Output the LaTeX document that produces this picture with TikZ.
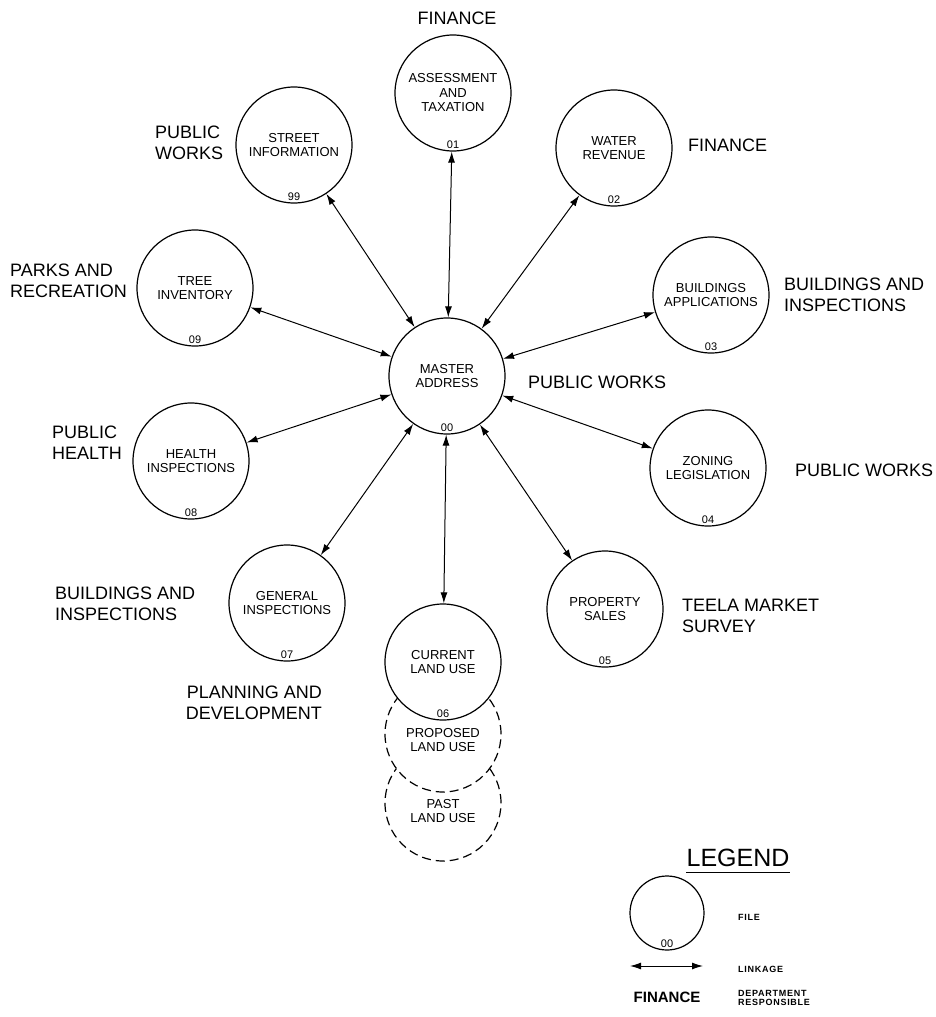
\documentclass[tikz,border=0pt]{standalone}
\usepackage{fontspec}
\setmainfont{Liberation Sans}
\newfontfamily\keyfont{Liberation Sans}[LetterSpace=8]
\usetikzlibrary{arrows.meta}

\begin{document}
\begin{tikzpicture}
[x=1pt,y=-1pt,
  fileDecorate/.style={shape=circle,minimum size=116pt,inner sep=0pt,draw,line width=1.2pt,fill=white,align=center,font=\fontsize{13}{14.5}\selectfont},
  plannedDecorate/.style={fileDecorate,dash pattern=on 9pt off 5pt},
  insideDecorate/.style={align=center,inner sep=0pt,font=\fontsize{13}{14.5}\selectfont},
  numDecorate/.style={font=\fontsize{11}{11}\selectfont,inner sep=3pt},
  lineDecorate/.style={{Latex[length=11pt,width=7pt]}-{Latex[length=11pt,width=7pt]},line width=1pt},
  deptDecorate/.style={align=left,font=\fontsize{18}{21}\selectfont,inner sep=0pt}]
\useasboundingbox (0,0) rectangle (936,1017);

%% land use history, stacked under the current file
\node (past) at (443,803) [plannedDecorate,label={[insideDecorate,yshift=-8pt]center:{PAST\\LAND USE}}] {};
\node (proposed) at (443,734) [plannedDecorate,label={[insideDecorate,yshift=-6pt]center:{PROPOSED\\LAND USE}}] {};

%% files
\foreach \nodename/\x/\y/\txt/\num in {
    master/447/376/{MASTER\\ADDRESS}/00,
    assess/453/93/{ASSESSMENT\\AND\\TAXATION}/01,
    water/614/148/{WATER\\REVENUE}/02,
    bldgapp/711/295/{BUILDINGS\\APPLICATIONS}/03,
    zoning/708/468/{ZONING\\LEGISLATION}/04,
    property/605/609/{PROPERTY\\SALES}/05,
    current/443/662/{CURRENT\\LAND USE}/06,
    general/287/603/{GENERAL\\INSPECTIONS}/07,
    health/191/461/{HEALTH\\INSPECTIONS}/08,
    tree/195/288/{TREE\\INVENTORY}/09,
    street/294/145/{STREET\\INFORMATION}/99} {
  \node (\nodename) at (\x,\y) [fileDecorate,label={[numDecorate,anchor=south]south:\num}] {\txt};
}

%% linkages
\path
\foreach \endnode in {assess, water, bldgapp, zoning, property, current, general, health, tree, street} {
  (master) edge[lineDecorate] (\endnode)
};

%% departments responsible
\node (finTop) at (457,18) [deptDecorate] {FINANCE};
\foreach \labelname/\x/\y/\txt in {
    finRight/688/145/FINANCE,
    pwStreet/155/143/{PUBLIC\\WORKS},
    parks/10/281/{PARKS AND\\RECREATION},
    bldgRight/784/295/{BUILDINGS AND\\INSPECTIONS},
    pwCenter/528/382/{PUBLIC WORKS},
    pwRight/795/470/{PUBLIC WORKS},
    pubHealth/52/443/{PUBLIC\\HEALTH},
    bldgLeft/55/604/{BUILDINGS AND\\INSPECTIONS},
    teela/682/616/{TEELA MARKET\\SURVEY}} {
  \node (\labelname) at (\x,\y) [deptDecorate,anchor=west] {\txt};
}
\node (planning) at (322,703) [deptDecorate,align=right,anchor=east] {PLANNING AND\\DEVELOPMENT};

%% legend
\node (legendTitle) at (738,858) [font=\fontsize{25}{25}\selectfont,inner sep=0pt] {LEGEND};
\draw[line width=1pt] ([yshift=-5pt]legendTitle.south west) -- ([yshift=-5pt]legendTitle.south east);
\node (legendFile) at (667,913) [fileDecorate,minimum size=74pt,label={[numDecorate,anchor=south]south:00}] {};
\node (fileText) at (738,917) [anchor=west,inner sep=0pt,font=\keyfont\bfseries\fontsize{9}{9}\selectfont] {FILE};
\coordinate (linkA) at (630,966);
\coordinate (linkB) at (703,966);
\draw[lineDecorate] (linkA) -- (linkB);
\node (linkText) at (738,969) [anchor=west,inner sep=0pt,font=\keyfont\bfseries\fontsize{9}{9}\selectfont] {LINKAGE};
\node (deptSample) at (667,997) [inner sep=0pt,font=\bfseries\fontsize{15}{15}\selectfont] {FINANCE};
\node (deptText) at (738,998) [anchor=west,align=left,inner sep=0pt,font=\keyfont\bfseries\fontsize{9}{9}\selectfont] {DEPARTMENT\\RESPONSIBLE};
\end{tikzpicture}
\end{document}
